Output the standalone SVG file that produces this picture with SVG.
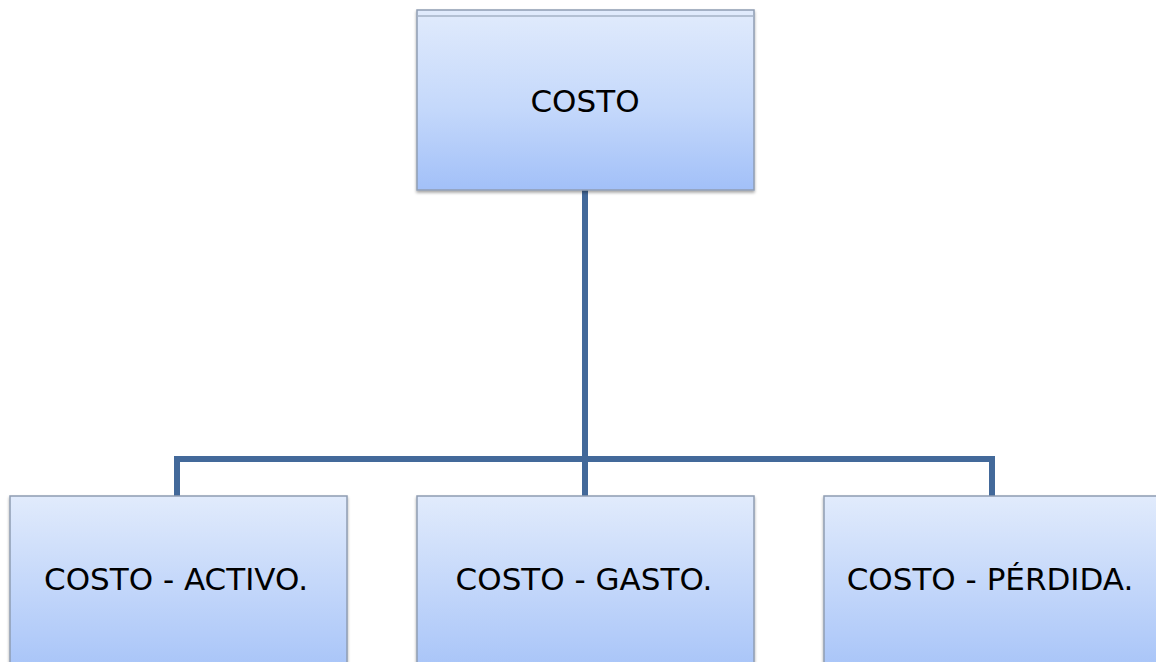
<svg xmlns="http://www.w3.org/2000/svg" width="1156" height="662" viewBox="0 0 1156 662">
<defs>
<linearGradient id="g" x1="0" y1="0" x2="0" y2="1">
<stop offset="0" stop-color="#e1ebfc"/>
<stop offset="0.55" stop-color="#c4d8fb"/>
<stop offset="1" stop-color="#a2c0f8"/>
</linearGradient>
<linearGradient id="gb" x1="0" y1="0" x2="0" y2="1">
<stop offset="0" stop-color="#e1ebfc"/>
<stop offset="1" stop-color="#a6c3f8"/>
</linearGradient>
<filter id="sh" x="-5%" y="-5%" width="110%" height="115%">
<feDropShadow dx="0" dy="2" stdDeviation="1.5" flood-color="#000" flood-opacity="0.35"/>
</filter>
</defs>
<style>
.box{fill:url(#g);stroke:#8f9db3;stroke-width:1.5;filter:url(#sh)}
.bbox{fill:url(#gb);stroke:#8f9db3;stroke-width:1.5;filter:url(#sh)}
.t{font-family:"DejaVu Sans",sans-serif;font-size:31px;fill:#000;text-anchor:middle}
.c{fill:none;stroke:#43699a;stroke-width:6;stroke-linejoin:miter}
</style>
<g id="connectors">
<path class="c" d="M585 190 V459"/>
<path class="c" d="M177 496 V459 H992 V496"/>
<path class="c" d="M585 459 V496"/>
</g>
<g id="node-costo">
<rect class="box" x="417" y="10" width="337" height="180"/>
<line x1="417" y1="16" x2="754" y2="16" stroke="#a4b2c6" stroke-width="1.5"/>
<text class="t" x="585" y="112">COSTO</text>
</g>
<g id="node-activo">
<rect class="bbox" x="10" y="496" width="337" height="180"/>
<text class="t" x="176" y="590">COSTO - ACTIVO.</text>
</g>
<g id="node-gasto">
<rect class="bbox" x="417" y="496" width="337" height="180"/>
<text class="t" x="584" y="590">COSTO - GASTO.</text>
</g>
<g id="node-perdida">
<rect class="bbox" x="824" y="496" width="337" height="180"/>
<text class="t" x="990" y="590">COSTO - PÉRDIDA.</text>
</g>
</svg>
